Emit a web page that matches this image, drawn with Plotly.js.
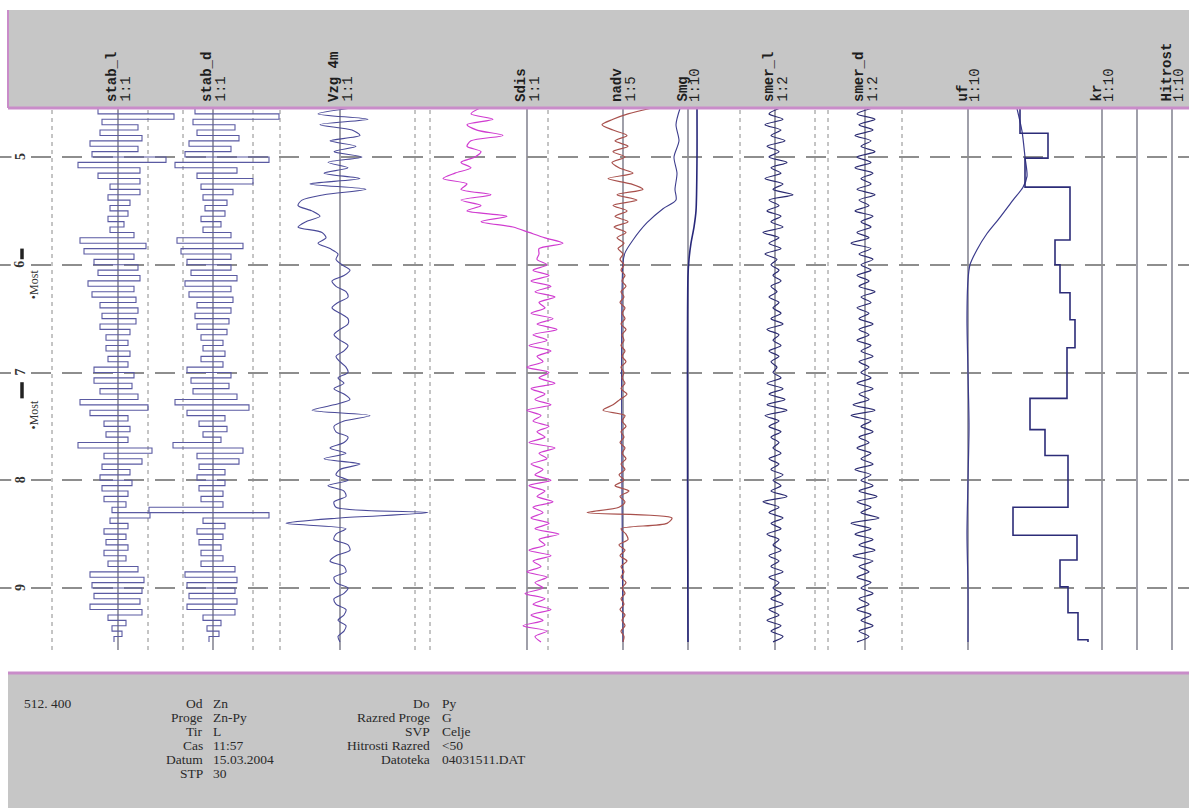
<!DOCTYPE html>
<html><head><meta charset="utf-8">
<script src="https://cdn.plot.ly/plotly-3.0.1.min.js"></script>
<style>html,body{margin:0;padding:0;background:#fff;}#chart{width:1189px;height:808px;}</style>
</head><body><div id="chart"></div>
<script>
// ---------- DATA ----------
const dist = [455,460,465,470,475,480,485,490,495,500,
505,510,515,520,525,530,535,540,545,550,
555,560,565,570,575,580,585,590,595,600,
605,610,615,620,625,630,635,640,645,650,
655,660,665,670,675,680,685,690,695,700,
705,710,715,720,725,730,735,740,745,750,
755,760,765,770,775,780,785,790,795,800,
805,810,815,820,825,830,835,840,845,850,
855,860,865,870,875,880,885,890,895,900,
905,910,915,920,925,930,935,940,945,950];

const stabL = [4,-10,28,-8,10,-9,12,-14,10,-13,
24,-20,11,-10,11,-4,11,-5,6,-4,
5,-5,3,-4,8,-19,14,-17,8,-12,
10,-10,11,-15,8,-13,9,-9,10,-8,
9,-9,6,-6,5,-6,6,-5,5,-12,
8,-12,7,-9,10,-19,15,-14,5,-7,
6,-6,5,-20,17,-7,12,-8,6,-9,
7,-8,5,-7,4,-3,16,-4,5,-7,
4,-6,5,-7,4,-5,10,-14,13,-13,
12,-12,11,-14,12,-5,4,-3,2,-2];

const stabD = [5,-9,33,-10,11,-8,13,-12,9,-14,
28,-19,12,-8,20,-6,10,-5,7,-4,
6,-6,4,-5,9,-18,15,-16,9,-13,
9,-11,12,-14,9,-12,10,-8,9,-9,
8,-8,7,-6,5,-5,6,-6,5,-13,
9,-11,8,-10,12,-19,18,-13,6,-7,
7,-5,4,-20,15,-8,13,-7,6,-8,
6,-7,5,-6,5,-32,28,-5,6,-8,
5,-7,4,-6,5,-6,11,-14,12,-13,
11,-12,12,-13,11,-5,4,-3,3,-2];

const vzg4m = [4,-11,14,-10,6,10,-5,8,-3,11,
-6,4,-8,10,-15,13,-8,-19,-21,-14,
-10,-17,-21,-9,-7,-11,-5,-1,-2,1,
5,2,-4,-2,3,4,-1,-4,0,4,
4,0,-3,0,4,2,-2,0,3,4,
-1,2,-3,2,5,-3,-14,15,2,-3,
-2,4,2,-5,3,-8,10,0,-2,4,
-6,2,3,-3,-2,44,0,-27,3,-2,
-3,4,5,-2,-5,2,3,-3,-2,4,
2,-3,-2,3,2,-1,3,2,-1,0];

const sdis = [-24,-28,-17,-30,-25,-12,-28,-30,-23,-26,
-33,-28,-36,-42,-30,-33,-18,-33,-23,-30,
-10,-23,-7,1,9,18,6,6,5,10,
3,11,2,12,4,14,6,9,2,13,
5,15,3,10,1,12,5,8,0,11,
6,14,2,9,4,12,0,7,3,11,
5,9,1,14,6,10,2,8,4,12,
1,9,5,13,3,8,2,11,4,16,
6,9,1,12,3,7,0,10,4,8,
-1,9,3,12,2,8,-2,10,4,7];

const nadv = [27,5,-10,-21,-10,4,-8,5,-10,2,
-11,-4,10,-15,8,20,-6,14,-10,4,
-8,5,-9,3,-6,1,-5,0,-3,1,
-2,2,-1,3,-2,1,-3,2,-1,2,
-2,3,-1,1,-2,2,-1,3,-2,1,
-1,2,-2,4,-3,-10,-20,2,-1,3,
-2,1,-3,2,-1,3,-2,2,-4,1,
-8,6,-3,2,-4,-36,49,44,-2,3,
5,-4,2,-3,4,-2,1,-2,3,-1,
2,-2,1,-3,2,-1,2,-2,1,0];

const nadvTheoDist = [455,470,485,500,515,530,540,548,561,577,589,598,950];
const nadvTheo     = [57,53,56,51,54,52,53,40,24,10,2,0,0];

const smgDist = [455,500,550,565,580,595,610,950];
const smg     = [9,9,8,6,3,1,0,0];

const smerL = [2,-3,4,-5,3,-2,5,-4,2,-3,
6,-2,3,-5,4,-1,9,-3,2,-4,
3,-2,4,-6,2,-3,3,-5,1,-2,
2,-1,3,-2,1,-3,2,-1,3,-2,
4,-4,2,-1,3,-3,2,-2,1,-1,
3,-4,4,-3,5,-4,6,-5,2,-3,
3,-2,2,-1,3,-3,2,-2,4,-1,
3,-2,6,-6,2,-3,4,-2,3,-4,
2,-1,3,-3,2,-2,4,-3,2,-1,
3,-2,4,-3,2,-4,3,-2,4,-1];

const smerD = [3,-4,5,-3,4,-5,3,-2,5,-4,
3,-5,4,-2,3,-4,5,-3,2,-5,
4,-2,3,-4,2,-7,3,-3,4,-2,
3,-4,2,-3,5,-2,3,-4,2,-3,
4,-3,2,-4,3,-2,4,-3,2,-2,
3,-4,4,-3,2,-6,5,-7,3,-2,
4,-3,2,-4,3,-2,4,-5,3,-2,
4,-3,6,-4,3,-2,7,-7,3,-5,
4,-3,5,-6,4,-3,2,-4,3,-2,
4,-3,2,-4,3,-2,4,-3,2,-4];

const ufDist = [455,476,500,518,528,540,556,571,586,600,614,650,700,750,800,850,900,950];
const uf     = [49,54,57,59,55,45,32,19,9,2,0,-1,0,1,0,-1,0,0];

const krDist = [455,478,501,528,577,600,626,651,677,724,753,777,825,851,874,899,923,948,950];
const kr     = [-82,-54,-77,-32,-47,-42,-32,-27,-35,-72,-57,-34,-89,-25,-42,-34,-24,-14,-14];

const gridVals   = [500,600,700,800,900];
const gridLabels = ['5','6','7','8','9'];
const bridgeStart = [585,709];
const bridgeEnd   = [603,724];
const bridgeText  = '•Most';

const colNames  = ['stab_l','stab_d','Vzg 4m','Sdis','nadv','Smg','smer_l','smer_d','uf','kr','Hitrost'];
const colScales = ['1:1','1:1','1:1','1:1','1:5','1:10','1:2','1:2','1:10','1:10','1:10'];

const footLeftTop = '512. 400';
const footLab1 = ['Od','Proge','Tir','Cas','Datum','STP'];
const footVal1 = ['Zn','Zn-Py','L','11:57','15.03.2004','30'];
const footLab2 = ['Do','Razred Proge','SVP','Hitrosti Razred','Datoteka'];
const footVal2 = ['Py','G','Celje','<50','04031511.DAT'];

// ---------- LAYOUT / STYLE ----------
const W = 1189, H = 808, PT = 108, PB = 650;
const py = v => (H - v) / H;   // pixel row -> paper
const colCx = [118,213,340,527,623,688,775,865,968,1102,1172];
const solidX = [118,213,340,527,623,688,775,865,968,1102,1137,1172];
const dashX  = [52,148,183,253,280,415,430,548,740,815,828,902];

const layout = {
  width: W, height: H, margin:{l:0,r:0,t:0,b:0},
  paper_bgcolor:'#ffffff', plot_bgcolor:'#ffffff', showlegend:false,
  xaxis:{domain:[0,1], range:[0,W], visible:false, fixedrange:true},
  yaxis:{domain:[py(PB), py(PT)], range:[957.54,454.52], tickvals:gridVals,
         showticklabels:false, ticks:'', showgrid:true, gridcolor:'#8e8e8e',
         gridwidth:2, griddash:'20px,11px', zeroline:false, showline:false, fixedrange:true},
  shapes:[], annotations:[]
};

let axN = 2;
function addAxis(cx, s){
  const name = 'x' + axN;
  layout['xaxis' + axN] = {overlaying:'x', range:[-cx/s, (W-cx)/s], visible:false, fixedrange:true};
  axN++;
  return name;
}

const traces = [];
function addTrace(xv, yv, cx, s, color, width, shape){
  traces.push({type:'scatter', mode:'lines', x:xv, y:yv, xaxis:addAxis(cx,s), yaxis:'y',
    line:{color:color, width:width, shape:shape||'linear', smoothing:0.8}, hoverinfo:'skip'});
}

// header / footer bands
layout.shapes.push({type:'rect', xref:'paper', yref:'paper', x0:8/W, x1:1, y0:py(PT), y1:py(10),
  fillcolor:'#c6c6c6', line:{width:0}, layer:'below'});
layout.shapes.push({type:'rect', xref:'paper', yref:'paper', x0:8/W, x1:1, y0:0, y1:py(673),
  fillcolor:'#c6c6c6', line:{width:0}, layer:'below'});

// vertical column lines
solidX.forEach(x => layout.shapes.push({type:'line', xref:'x', yref:'paper', x0:x, x1:x,
  y0:py(PB), y1:py(PT), line:{color:'#6c6c7c', width:1.3}, layer:'below'}));
dashX.forEach(x => layout.shapes.push({type:'line', xref:'x', yref:'paper', x0:x, x1:x,
  y0:py(PB), y1:py(PT), line:{color:'#8a8a8a', width:1, dash:'4px,4px'}, layer:'below'}));

// pink borders
const pink = '#c98cc9';
layout.shapes.push({type:'line', xref:'paper', yref:'paper', x0:8/W, x1:1, y0:py(PT), y1:py(PT), line:{color:pink, width:3}});
layout.shapes.push({type:'line', xref:'paper', yref:'paper', x0:8/W, x1:8/W, y0:py(PT), y1:py(10), line:{color:pink, width:2}});
layout.shapes.push({type:'line', xref:'paper', yref:'paper', x0:8/W, x1:1, y0:py(673), y1:py(673), line:{color:pink, width:3}});

// traces
addTrace(stabL, dist, 118, 2, '#5a5aa2', 1.1, 'hv');
addTrace(stabD, dist, 213, 2, '#5a5aa2', 1.1, 'hv');
addTrace(vzg4m, dist, 340, 2, '#4a4a98', 1.1, 'spline');
addTrace(sdis, dist, 527, 2, '#d03cd0', 1.2, 'spline');
addTrace(nadvTheo, nadvTheoDist, 623, 1, '#3c3c8c', 1.1, 'spline');
addTrace(nadv, dist, 623, 1, '#a8504c', 1.2, 'spline');
addTrace(smg, smgDist, 688, 1, '#28287a', 1.6, 'spline');
addTrace(smerL, dist, 775, 2, '#2a2a70', 1.2, 'spline');
addTrace(smerD, dist, 865, 2, '#2a2a70', 1.2, 'spline');
addTrace(uf, ufDist, 968, 1, '#3a3a8c', 1.2, 'spline');
addTrace(kr, krDist, 1102, 1, '#2c2c78', 1.6, 'vh');

// header labels
const hf = {family:'Liberation Mono', size:14, color:'#1e1e1e'};
colNames.forEach((n,i) => {
  layout.annotations.push({xref:'x', yref:'paper', x:colCx[i]-6, y:py(104), text:'<b>'+n+'</b>', textangle:-90,
    xanchor:'center', yanchor:'bottom', showarrow:false, font:hf});
  layout.annotations.push({xref:'x', yref:'paper', x:colCx[i]+7, y:py(104), text:colScales[i], textangle:-90,
    xanchor:'center', yanchor:'bottom', showarrow:false, font:hf});
});

// distance labels
gridVals.forEach((v,i) => layout.annotations.push({xref:'x', yref:'y', x:20, y:v, text:'<b>'+gridLabels[i]+'</b>',
  textangle:-90, showarrow:false, bgcolor:'#ffffff', borderpad:1,
  font:{family:'Liberation Serif', size:14, color:'#333'}}));

// bridge markers
bridgeStart.forEach((b,i) => {
  layout.shapes.push({type:'line', xref:'x', yref:'y', x0:22, x1:22, y0:b, y1:bridgeEnd[i],
    line:{color:'#222', width:3.5}});
  layout.annotations.push({xref:'x', yref:'y', x:34, y:bridgeEnd[i]+15, text:bridgeText, textangle:-90,
    showarrow:false, font:{family:'Liberation Serif', size:12, color:'#333'}});
});

// footer text
const ff = {family:'Liberation Serif', size:13.5, color:'#2a2a2a'};
const rowY = r => py(703 + 14*r);
layout.annotations.push({xref:'x', yref:'paper', x:22, y:rowY(0), text:footLeftTop, xanchor:'left', yanchor:'middle', showarrow:false, font:ff});
footLab1.forEach((t,r) => {
  layout.annotations.push({xref:'x', yref:'paper', x:205, y:rowY(r), text:t, xanchor:'right', yanchor:'middle', showarrow:false, font:ff});
  layout.annotations.push({xref:'x', yref:'paper', x:211, y:rowY(r), text:footVal1[r], xanchor:'left', yanchor:'middle', showarrow:false, font:ff});
});
footLab2.forEach((t,r) => {
  layout.annotations.push({xref:'x', yref:'paper', x:432, y:rowY(r), text:t, xanchor:'right', yanchor:'middle', showarrow:false, font:ff});
  layout.annotations.push({xref:'x', yref:'paper', x:440, y:rowY(r), text:footVal2[r], xanchor:'left', yanchor:'middle', showarrow:false, font:ff});
});

Plotly.newPlot('chart', traces, layout, {staticPlot:true, displayModeBar:false});
</script>
</body></html>
